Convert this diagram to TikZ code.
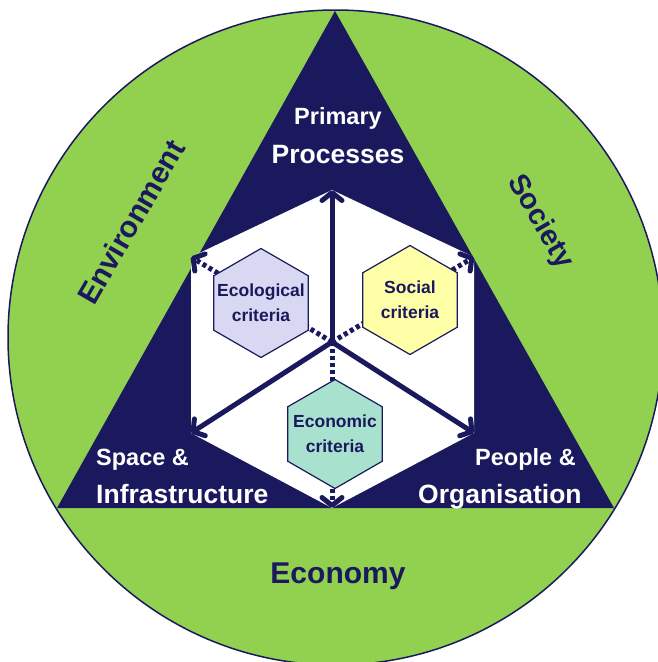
\documentclass[tikz,border=0pt]{standalone}
\usepackage{fontspec}
\setmainfont{Liberation Sans}
\usetikzlibrary{shapes.geometric,arrows.meta}
\definecolor{navy}{RGB}{26,25,93}
\definecolor{leaf}{RGB}{146,208,80}
\definecolor{ecofill}{RGB}{216,216,242}
\definecolor{socfill}{RGB}{255,255,168}
\definecolor{econfill}{RGB}{168,226,206}

\begin{document}
\begin{tikzpicture}[x=1pt,y=-1pt,
		hexa/.style={regular polygon,regular polygon sides=6,shape border rotate=30,
			minimum size=109pt,inner sep=0pt,draw=navy,line width=1.2pt},
		hexatext/.style={text=navy,align=center,inner sep=0pt,
			font=\fontsize{17.5}{25}\selectfont\bfseries},
		corner/.style={text=white,inner sep=0pt,anchor=base,font=\fontsize{23.5}{24}\selectfont\bfseries},
		cornerbig/.style={corner,font=\fontsize{26.5}{27}\selectfont\bfseries},
		pillar/.style={text=navy,inner sep=0pt,font=\fontsize{30}{30}\selectfont\bfseries},
		axis/.style={navy,line width=5pt,-{Straight Barb[length=8pt,width=20pt,round]}},
		dotaxis/.style={axis,dash pattern=on 4pt off 3pt}]
		\useasboundingbox (0,0) rectangle (658,662);
		\clip (0,0) rectangle (658,662);
		\filldraw[fill=leaf,draw=navy,line width=1.5pt] (335.5,337.5) circle[radius=327.5pt];
		\coordinate (apex) at (335,11);
		\coordinate (bl) at (57,508);
		\coordinate (br) at (614,508);
		\fill[navy] (apex) -- (br) -- (bl) -- cycle;
		\coordinate (htop) at (332,190);
		\coordinate (hur) at (474,257);
		\coordinate (hlr) at (474,433);
		\coordinate (hbot) at (332,508);
		\coordinate (hll) at (191,433);
		\coordinate (hul) at (191,257);
		\coordinate (hub) at (332,342);
		\fill[white] (htop) -- (hur) -- (hlr) -- (hbot) -- (hll) -- (hul) -- cycle;
		\draw[axis] (hub) -- (htop);
		\draw[axis] (hub) -- (hll);
		\draw[axis] (hub) -- (hlr);
		\draw[dotaxis] (hub) -- (hul);
		\draw[dotaxis] (hub) -- (hur);
		\draw[dotaxis] (hub) -- (hbot);
		\node[hexa,fill=ecofill,label={[hexatext]center:Ecological\\criteria}] (eco) at (261,303) {};
		\node[hexa,fill=socfill,label={[hexatext]center:Social\\criteria}] (soc) at (410,300) {};
		\node[hexa,fill=econfill,label={[hexatext]center:Economic\\criteria}] (econ) at (335,434) {};
		\node[corner] (prim) at (338,124.5) {Primary};
		\node[cornerbig] (proc) at (338,163) {Processes};
		\node[corner,anchor=base west] (space) at (96,465) {Space \&};
		\node[cornerbig,anchor=base west] (infra) at (96,503.5) {Infrastructure};
		\node[corner,anchor=base west] (people) at (475,465) {People \&};
		\node[cornerbig,anchor=base west] (orga) at (418,503.5) {Organisation};
		\node[pillar,anchor=base] (economy) at (338,583) {Economy};
		\node[pillar,rotate=60] (environ) at (131,222) {Environment};
		\node[pillar,rotate=-60,font=\fontsize{29}{29}\selectfont\bfseries] (society) at (540,222) {Society};
	\end{tikzpicture}
\end{document}
